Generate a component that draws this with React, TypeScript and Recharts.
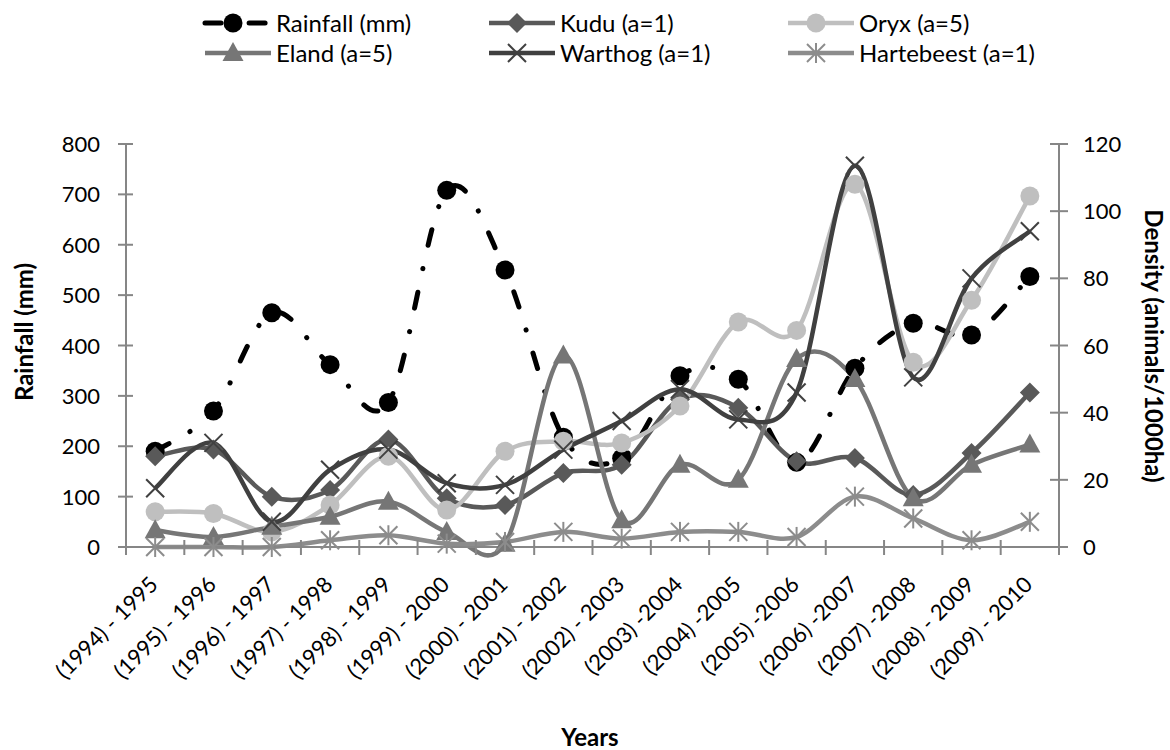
import React from 'react';
import { LineChart, Line, XAxis, YAxis } from 'recharts';

// ---------- data ----------
const categories = [
  '(1994) - 1995', '(1995) - 1996', '(1996) - 1997', '(1997) - 1998',
  '(1998) - 1999', '(1999) - 2000', '(2000) - 2001', '(2001) - 2002',
  '(2002) - 2003', '(2003) -2004', '(2004) -2005', '(2005) -2006',
  '(2006) -2007', '(2007) -2008', '(2008) - 2009', '(2009) - 2010',
];
const rainfall = [190, 270, 465, 362, 287, 708, 550, 218, 176, 340, 333, 168, 355, 444, 421, 537];
const kudu = [27, 29, 15, 17, 32, 14.5, 12.5, 22, 24.5, 44, 41.5, 25.5, 26.5, 15.5, 28, 46];
const oryx = [10.5, 10, 4.5, 12.5, 27, 11, 28.5, 31.5, 31, 42, 67, 64.5, 108, 55, 73.5, 104.5];
const eland = [5, 3, 6, 9, 13.5, 4.5, 1, 57, 8, 24.5, 20, 56, 50, 14.5, 24.5, 30.5];
const warthog = [17.5, 31, 7.5, 23, 29, 19, 18.5, 29, 37.5, 47, 38, 46, 113.5, 50.5, 80, 94];
const hartebeest = [0, 0, 0, 2, 3.5, 1, 1.5, 4.5, 2.5, 4.5, 4.5, 3, 15, 8.5, 2, 7.5];

const leftTicks = [0, 100, 200, 300, 400, 500, 600, 700, 800];
const rightTicks = [0, 20, 40, 60, 80, 100, 120];

const seriesNames = ['Rainfall (mm)', 'Kudu (a=1)', 'Oryx (a=5)', 'Eland (a=5)', 'Warthog (a=1)', 'Hartebeest (a=1)'];

const data = categories.map((c, i) => ({
  year: c,
  rainfall: rainfall[i],
  kudu: kudu[i],
  oryx: oryx[i],
  eland: eland[i],
  warthog: warthog[i],
  hartebeest: hartebeest[i],
}));

// ---------- layout / style ----------
const W = 1170;
const H = 750;
const LEFT_AXIS_W = 126;
const RIGHT_AXIS_W = 111;
const TOP = 144;
const X_AXIS_H = 150;
const BOTTOM_MARGIN = 53;
const PLOT_W = W - LEFT_AXIS_W - RIGHT_AXIS_W;
const BAND = PLOT_W / categories.length;
const FONT = 'Lato, "Open Sans", sans-serif';
const AXIS_COLOR = '#868686';

type MarkerKind = 'circle' | 'diamond' | 'triangle' | 'x' | 'star';
interface SeriesStyle {
  key: string;
  name: string;
  color: string;
  width: number;
  marker: MarkerKind;
  axis: 'left' | 'right';
  dash?: string;
  markerColor?: string;
}

const series: SeriesStyle[] = [
  { key: 'rainfall', name: seriesNames[0], color: '#000000', width: 5, marker: 'circle', axis: 'left', dash: '16 24 0.1 24' },
  { key: 'kudu', name: seriesNames[1], color: '#595959', width: 4.5, marker: 'diamond', axis: 'right' },
  { key: 'oryx', name: seriesNames[2], color: '#BFBFBF', width: 4.5, marker: 'circle', axis: 'right' },
  { key: 'eland', name: seriesNames[3], color: '#767676', width: 4.5, marker: 'triangle', axis: 'right' },
  { key: 'warthog', name: seriesNames[4], color: '#404040', width: 4.5, marker: 'x', axis: 'right' },
  { key: 'hartebeest', name: seriesNames[5], color: '#8C8C8C', width: 4.5, marker: 'star', axis: 'right' },
];

// Excel-like smoothing (Catmull-Rom style bezier)
function excelSmooth(context: any) {
  let pts: [number, number][] = [];
  return {
    areaStart() {},
    areaEnd() {},
    lineStart() { pts = []; },
    point(x: number, y: number) { pts.push([+x, +y]); },
    lineEnd() {
      if (!pts.length) return;
      context.moveTo(pts[0][0], pts[0][1]);
      for (let i = 0; i < pts.length - 1; i++) {
        const p0 = pts[i - 1] || pts[i];
        const p1 = pts[i];
        const p2 = pts[i + 1];
        const p3 = pts[i + 2] || p2;
        context.bezierCurveTo(
          p1[0] + (p2[0] - p0[0]) / 6, p1[1] + (p2[1] - p0[1]) / 6,
          p2[0] - (p3[0] - p1[0]) / 6, p2[1] - (p3[1] - p1[1]) / 6,
          p2[0], p2[1],
        );
      }
    },
  };
}

function Marker({ kind, cx, cy, color, scale = 1 }: { kind: MarkerKind; cx: number; cy: number; color: string; scale?: number }) {
  const s = scale;
  switch (kind) {
    case 'circle':
      return <circle cx={cx} cy={cy} r={9.5 * s} fill={color} />;
    case 'diamond':
      return <polygon points={`${cx},${cy - 10 * s} ${cx + 10 * s},${cy} ${cx},${cy + 10 * s} ${cx - 10 * s},${cy}`} fill={color} />;
    case 'triangle':
      return <polygon points={`${cx},${cy - 11 * s} ${cx + 10.5 * s},${cy + 8 * s} ${cx - 10.5 * s},${cy + 8 * s}`} fill={color} />;
    case 'x':
      return (
        <g stroke={color} strokeWidth={2}>
          <line x1={cx - 9 * s} y1={cy - 9 * s} x2={cx + 9 * s} y2={cy + 9 * s} />
          <line x1={cx - 9 * s} y1={cy + 9 * s} x2={cx + 9 * s} y2={cy - 9 * s} />
        </g>
      );
    case 'star':
      return (
        <g stroke={color} strokeWidth={2}>
          <line x1={cx - 9 * s} y1={cy - 9 * s} x2={cx + 9 * s} y2={cy + 9 * s} />
          <line x1={cx - 9 * s} y1={cy + 9 * s} x2={cx + 9 * s} y2={cy - 9 * s} />
          <line x1={cx} y1={cy - 10 * s} x2={cx} y2={cy + 10 * s} />
        </g>
      );
  }
  return null;
}

const XTick = (props: any) => {
  const { x, y, payload, index } = props;
  const idx = typeof index === 'number' ? index : payload.index;
  const ax = x + 4;
  const ay = y + 39;
  return (
    <g>
      <line x1={x - BAND / 2} x2={x - BAND / 2} y1={y - 7} y2={y + 8} stroke={AXIS_COLOR} strokeWidth={2} />
      {idx === categories.length - 1 && (
        <line x1={x + BAND / 2} x2={x + BAND / 2} y1={y - 7} y2={y + 8} stroke={AXIS_COLOR} strokeWidth={2} />
      )}
      <text x={ax} y={ay} transform={`rotate(-45, ${ax}, ${ay})`} textAnchor="end" fontFamily={FONT} fontSize={22} fill="#000">
        {payload.value}
      </text>
    </g>
  );
};

const LeftTick = (props: any) => {
  const { x, y, payload } = props;
  return (
    <g>
      <line x1={x - 8} x2={x + 7} y1={y} y2={y} stroke={AXIS_COLOR} strokeWidth={2} />
      <text x={x - 26} y={y + 8} textAnchor="end" fontFamily={FONT} fontSize={22} fill="#000">{payload.value}</text>
    </g>
  );
};

const RightTick = (props: any) => {
  const { x, y, payload } = props;
  return (
    <g>
      <line x1={x - 9} x2={x + 9} y1={y} y2={y} stroke={AXIS_COLOR} strokeWidth={2} />
      <text x={x + 24} y={y + 8} textAnchor="start" fontFamily={FONT} fontSize={22} fill="#000">{payload.value}</text>
    </g>
  );
};

const legendCols = [205, 489, 788];
const legendRows = [23, 53];
const ICON_W = 66;

function LegendOverlay() {
  return (
    <g>
      {series.map((s, i) => {
        const col = i % 3;
        const row = Math.floor(i / 3);
        const x0 = legendCols[col];
        const cy = legendRows[row];
        return (
          <g key={s.key}>
            <line x1={x0} x2={x0 + ICON_W} y1={cy} y2={cy} stroke={s.color} strokeWidth={s.width}
              strokeDasharray={s.dash ? '16 14 0.1 14' : undefined} strokeLinecap={s.dash ? 'round' : 'butt'} />
            <Marker kind={s.marker} cx={x0 + 28} cy={cy} color={s.color} />
            <text x={x0 + 71} y={cy + 9} fontFamily={FONT} fontSize={24} fill="#000">{s.name}</text>
          </g>
        );
      })}
    </g>
  );
}

export default function App() {
  return (
    <div style={{ position: 'absolute', left: 0, top: 0, width: W, height: H, background: '#fff' }}>
      <LineChart
        width={W}
        height={H}
        data={data}
        margin={{ top: TOP, right: 0, left: 0, bottom: BOTTOM_MARGIN }}
      >
        <XAxis
          dataKey="year"
          scale="band"
          interval={0}
          height={X_AXIS_H}
          tickSize={0}
          tickMargin={0}
          tickLine={false}
          axisLine={{ stroke: AXIS_COLOR, strokeWidth: 2 }}
          tick={<XTick />}
        />
        <YAxis
          yAxisId="left"
          orientation="left"
          width={LEFT_AXIS_W}
          domain={[0, 800]}
          ticks={leftTicks}
          interval={0}
          tickSize={0}
          tickMargin={0}
          tickLine={false}
          axisLine={{ stroke: AXIS_COLOR, strokeWidth: 2 }}
          tick={<LeftTick />}
        />
        <YAxis
          yAxisId="right"
          orientation="right"
          width={RIGHT_AXIS_W}
          domain={[0, 120]}
          ticks={rightTicks}
          interval={0}
          tickSize={0}
          tickMargin={0}
          tickLine={false}
          axisLine={{ stroke: AXIS_COLOR, strokeWidth: 2 }}
          tick={<RightTick />}
        />
        {series.map((s) => (
          <Line
            key={s.key}
            dataKey={s.key}
            name={s.name}
            yAxisId={s.axis}
            type={excelSmooth as any}
            stroke={s.color}
            strokeWidth={s.width}
            strokeDasharray={s.dash}
            strokeLinecap={s.dash ? 'round' : 'butt'}
            isAnimationActive={false}
            activeDot={false}
            dot={(p: any) => (
              <g key={`${s.key}-${p.index}`}>
                <Marker kind={s.marker} cx={p.cx} cy={p.cy} color={s.color} />
              </g>
            )}
          />
        ))}
      </LineChart>
      <svg width={W} height={H} style={{ position: 'absolute', left: 0, top: 0, pointerEvents: 'none' }}>
        <LegendOverlay />
        <text x={33} y={332} transform="rotate(-90, 33, 332)" textAnchor="middle" fontFamily={FONT} fontWeight="bold" fontSize={24} fill="#000">
          Rainfall (mm)
        </text>
        <text x={1145} y={346} transform="rotate(90, 1145, 346)" textAnchor="middle" fontFamily={FONT} fontWeight="bold" fontSize={24} fill="#000">
          Density (animals/1000ha)
        </text>
        <text x={590} y={746} textAnchor="middle" fontFamily={FONT} fontWeight="bold" fontSize={24} fill="#000">
          Years
        </text>
      </svg>
    </div>
  );
}
